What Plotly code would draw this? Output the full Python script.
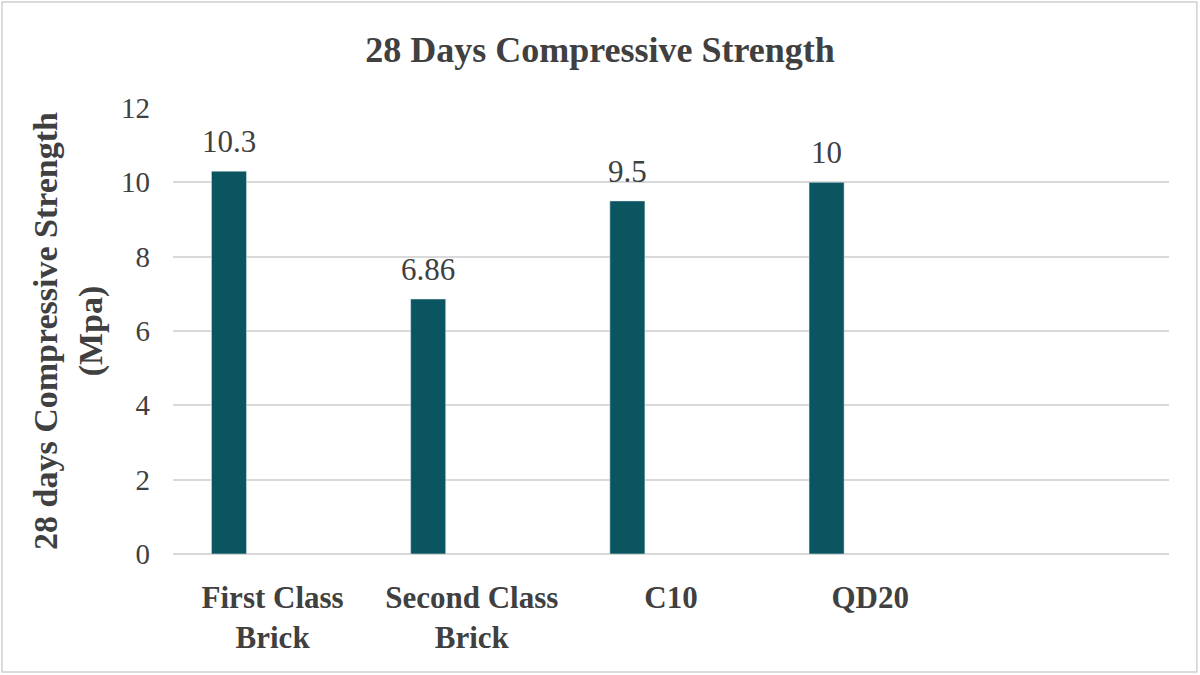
import plotly.graph_objects as go

# Chart data
categories = ["First Class<br>Brick", "Second Class<br>Brick", "C10", "QD20"]
strength = [10.3, 6.86, 9.5, 10]
strength_labels = ["10.3", "6.86", "9.5", "10"]

TEXT_COLOR = "#404040"
BAR_COLOR = "#0b5560"
SERIF = "Liberation Serif, Times New Roman, serif"

fig = go.Figure()

# Bars sit left of the category centre (Excel-style cluster with an empty second series)
fig.add_trace(
    go.Bar(
        x=categories,
        y=strength,
        marker_color=BAR_COLOR,
        width=0.176,
        offset=-0.307,
        showlegend=False,
        hoverinfo="x+y",
    )
)

# value labels above each bar
for cat, val, lab in zip(categories, strength, strength_labels):
    fig.add_annotation(
        x=cat,
        y=val,
        text=lab,
        showarrow=False,
        xanchor="center",
        yanchor="bottom",
        xshift=-43.5,
        yshift=10,
        font=dict(family=SERIF, size=31, color=TEXT_COLOR),
    )

fig.update_layout(
    width=1200,
    height=675,
    paper_bgcolor="white",
    plot_bgcolor="white",
    margin=dict(l=173, r=31, t=108, b=121),
    title=dict(
        text="<b>28 Days Compressive Strength</b>",
        x=0.5,
        xanchor="center",
        y=0.927,
        yanchor="middle",
        font=dict(family=SERIF, size=36, color=TEXT_COLOR),
    ),
    font=dict(family=SERIF, color=TEXT_COLOR),
    # light grey frame round the whole chart
    shapes=[
        dict(
            type="rect",
            xref="paper",
            yref="paper",
            x0=-0.1717,
            x1=1.028,
            y0=-0.2646,
            y1=1.2377,
            line=dict(color="#d0d0d0", width=1.5),
        )
    ],
)

fig.update_xaxes(
    type="category",
    categoryorder="array",
    categoryarray=categories,
    range=[-0.5, 4.5],
    showgrid=False,
    showline=False,
    ticks="",
    tickfont=dict(family=SERIF, size=31, color=TEXT_COLOR, weight="bold"),
    ticklabelstandoff=22,
)

fig.update_yaxes(
    range=[0, 12],
    dtick=2,
    showgrid=True,
    gridcolor="#d9d9d9",
    gridwidth=1.5,
    zeroline=True,
    zerolinecolor="#d9d9d9",
    zerolinewidth=1.5,
    showline=False,
    ticks="",
    tickfont=dict(family=SERIF, size=29, color=TEXT_COLOR),
    ticklabelstandoff=22,
    title=dict(
        text="<b>28 days Compressive Strength<br>(Mpa)</b>",
        font=dict(family=SERIF, size=34, color=TEXT_COLOR),
        standoff=8,
    ),
)

# drop the default page margin so the figure fills the window exactly
fig.write_html(
    "out.html",
    config={"displayModeBar": False},
    post_script="document.body.style.margin='0';",
)
